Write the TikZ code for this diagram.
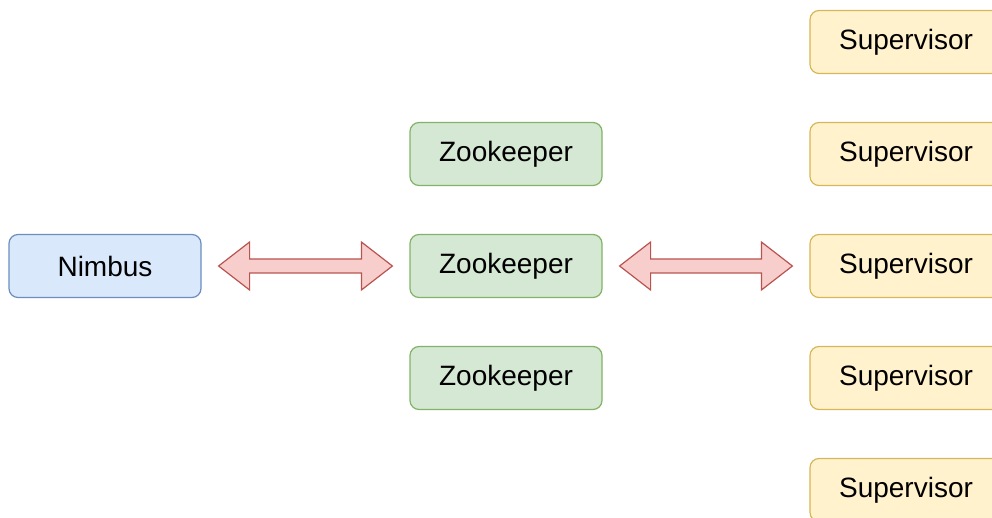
\documentclass[tikz,border=0pt]{standalone}
\usepackage{fontspec}
\setmainfont{Liberation Sans}
\usetikzlibrary{calc}

\definecolor{nimbusfill}{HTML}{DAE8FC}
\definecolor{nimbusline}{HTML}{6C8EBF}
\definecolor{zkfill}{HTML}{D5E8D4}
\definecolor{zkline}{HTML}{82B366}
\definecolor{supfill}{HTML}{FFF2CC}
\definecolor{supline}{HTML}{D6B656}
\definecolor{arrowfill}{HTML}{F8CECC}
\definecolor{arrowline}{HTML}{B85450}

\begin{document}
\begin{tikzpicture}[x=1pt, y=1pt, font=\fontsize{28}{34}\selectfont,
    box/.style={draw, line width=1.2pt, rounded corners=9pt,
      minimum width=192pt, minimum height=63pt, inner sep=0pt},
    nimbusbox/.style={box, fill=nimbusfill, draw=nimbusline},
    zkbox/.style={box, fill=zkfill, draw=zkline},
    supbox/.style={box, fill=supfill, draw=supline},
    fatarrow/.style={draw=arrowline, fill=arrowfill, line width=1.2pt, line join=miter}]

  \useasboundingbox (0,0) rectangle (992,-518);
  \clip (0,0) rectangle (992,-518);

  \node[nimbusbox] (nimbus) at (105,-266) {Nimbus};

  \foreach \i/\y in {1/-154, 2/-266, 3/-378}
    \node[zkbox] (zk\i) at (506,\y) {Zookeeper};

  \foreach \i/\y in {1/-42, 2/-154, 3/-266, 4/-378, 5/-490}
    \node[supbox] (sup\i) at (906,\y) {Supervisor};

  \foreach \a/\b in {nimbus/zk2, zk2/sup3}{
    \coordinate (l) at ($(\a.east)+(17,0)$);
    \coordinate (r) at ($(\b.west)+(-17,0)$);
    \draw[fatarrow] (l) -- ([shift={(31,24)}]l) -- ([shift={(31,7)}]l)
      -- ([shift={(-31,7)}]r) -- ([shift={(-31,24)}]r) -- (r)
      -- ([shift={(-31,-24)}]r) -- ([shift={(-31,-7)}]r)
      -- ([shift={(31,-7)}]l) -- ([shift={(31,-24)}]l) -- cycle;
  }
\end{tikzpicture}
\end{document}
